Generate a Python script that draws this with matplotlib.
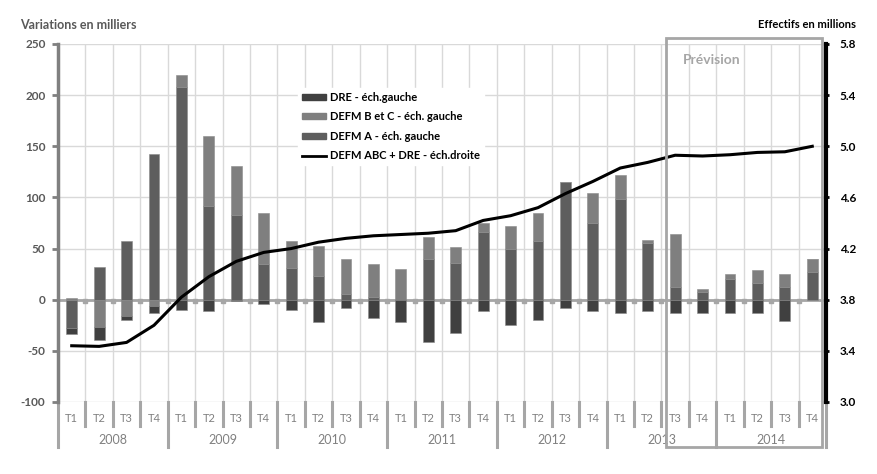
import matplotlib
matplotlib.use("Agg")
import matplotlib.pyplot as plt
import matplotlib.transforms as mtransforms
from matplotlib.patches import Rectangle, Patch
from matplotlib.lines import Line2D
import numpy as np

plt.rcParams['font.family'] = ['Lato', 'DejaVu Sans']

years = ["2008", "2009", "2010", "2011", "2012", "2013", "2014"]
quarters = ["T1", "T2", "T3", "T4"]

defm_a = [-28, 32, 57, 142, 208, 92, 83, 35,
          31, 23, 6, 3, 0, 40, 36, 66,
          50, 57, 115, 75, 98, 55, 12, 8,
          20, 16, 12, 27]
defm_bc = [2, -27, -16, -6, 12, 68, 48, 50,
           26, 30, 34, 32, 30, 21, 16, 9,
           22, 28, 0, 29, 24, 3, 52, 2,
           5, 13, 13, 13]
dre = [-6, -12, -4, -7, -10, -11, -1, -4,
       -10, -22, -8, -18, -22, -41, -33, -11,
       -25, -20, -8, -11, -13, -11, -13, -13,
       -13, -13, -21, 0]
total_abc_dre = [3.44, 3.435, 3.466, 3.60, 3.82, 3.98, 4.10, 4.17,
                 4.20, 4.25, 4.28, 4.30, 4.31, 4.32, 4.34, 4.42,
                 4.457, 4.52, 4.63, 4.725, 4.83, 4.874, 4.93, 4.924,
                 4.934, 4.952, 4.957, 5.0]

series_labels = ["DRE - éch.gauche", "DEFM B et C - éch. gauche",
                 "DEFM A - éch. gauche", "DEFM ABC + DRE - éch.droite"]
left_title = "Variations en milliers"
right_title = "Effectifs en millions"
forecast_label = "Prévision"

c_a = "#5e5e5e"
c_bc = "#7f7f7f"
c_dre = "#404040"
grid_c = "#d9d9d9"
sep_c = "#a6a6a6"

W, H = 878, 474
fig = plt.figure(figsize=(W / 100, H / 100), dpi=100)
ax = fig.add_axes([58 / W, (H - 402) / H, (826 - 58) / W, 358 / H])

n = len(defm_a)
x = np.arange(n) + 0.5
bw = 0.4

pos_bottom = np.zeros(n)
neg_bottom = np.zeros(n)
for vals, col in [(defm_a, c_a), (defm_bc, c_bc), (dre, c_dre)]:
    v = np.array(vals, dtype=float)
    bottoms = np.where(v >= 0, pos_bottom, neg_bottom)
    ax.bar(x, v, bw, bottom=bottoms, color=col, edgecolor="#8a8a8a",
           linewidth=0.4, zorder=3)
    pos_bottom = pos_bottom + np.where(v > 0, v, 0)
    neg_bottom = neg_bottom + np.where(v < 0, v, 0)

ax.set_xlim(0, n)
ax.set_ylim(-100, 250)
ax.set_yticks(np.arange(-100, 251, 50))
ax.set_yticklabels([str(v) for v in range(-100, 251, 50)],
                   fontsize=8.5, fontweight="bold", color="#595959")
ax.tick_params(axis="y", length=4, width=2, color="#808080", direction="out", pad=5)
ax.set_xticks(np.arange(0, n + 1))
ax.set_xticklabels([])
ax.tick_params(axis="x", length=0)
ax.grid(True, axis="both", color=grid_c, linewidth=1, zorder=0)
ax.set_axisbelow(True)
for s in ["top", "right", "bottom"]:
    ax.spines[s].set_visible(False)
ax.spines["left"].set_color("#808080")
ax.spines["left"].set_linewidth(2.5)

# zero line with small ticks
ax.axhline(0, color=sep_c, linewidth=2, zorder=2)
ax.plot(np.arange(1, n), np.full(n - 1, -1.5), linestyle="none", marker="s",
        markersize=2.5, color=sep_c, zorder=2)

# category axis
tr = mtransforms.blended_transform_factory(ax.transData, ax.transAxes)
for i in range(n):
    ax.text(x[i], -0.045, quarters[i % 4], transform=tr, ha="center", va="center",
            fontsize=8, color="#808080")
for b in range(n + 1):
    if b % 4 == 0:
        y1 = -0.125
    else:
        y1 = -0.068
    ax.add_line(Line2D([b, b], [0, y1], transform=tr, color=sep_c, linewidth=2.2,
                       clip_on=False))
for k, yr in enumerate(years):
    ax.text(4 * k + 2, -0.105, yr, transform=tr, ha="center", va="center",
            fontsize=9, color="#808080")

# right axis
ax2 = ax.twinx()
ax2.plot(x, total_abc_dre, color="black", linewidth=2.2, zorder=5)
ax2.set_ylim(3.0, 5.8)
rt = np.round(np.arange(3.0, 5.81, 0.4), 1)
ax2.set_yticks(rt)
ax2.set_yticklabels([f"{v:.1f}" for v in rt], fontsize=8.5, fontweight="bold",
                    color="black")
ax2.tick_params(axis="y", length=4, width=2, color="black", direction="inout", pad=8)
for s in ["top", "left", "bottom"]:
    ax2.spines[s].set_visible(False)
ax2.spines["right"].set_color("black")
ax2.spines["right"].set_linewidth(3)

# forecast box
tr2 = mtransforms.blended_transform_factory(ax2.transData, ax2.transAxes)
ax2.add_patch(Rectangle((22.16, -0.126), 27.85 - 22.16, 1.017 + 0.126,
                        transform=tr2, fill=False, edgecolor=sep_c, linewidth=2,
                        clip_on=False, zorder=6))
ax2.text(23.84, 0.955, forecast_label, transform=tr2, ha="center", va="center",
         fontsize=10, fontweight="bold", color="#a6a6a6")

# titles
fig.text(20 / W, 1 - 25 / H, left_title, ha="left", va="center", fontsize=9,
         fontweight="bold", color="#595959")
fig.text(856 / W, 1 - 25 / H, right_title, ha="right", va="center", fontsize=8,
         fontweight="bold", color="black")

handles = [Patch(facecolor=c_dre, edgecolor=c_dre),
           Patch(facecolor=c_bc, edgecolor=c_bc),
           Patch(facecolor=c_a, edgecolor=c_a),
           Line2D([0], [0], color="black", linewidth=2)]
leg = ax2.legend(handles, series_labels, loc="upper left",
                 bbox_to_anchor=(292 / W, 1 - 82 / H), bbox_transform=fig.transFigure,
                 frameon=True, fancybox=False, framealpha=1, edgecolor="white",
                 facecolor="white", prop={"size": 8, "weight": "bold"},
                 handlelength=2.2, handleheight=0.45, handletextpad=0.3,
                 labelspacing=0.75, borderpad=0.4)
leg.set_zorder(10)

fig.savefig("out.png", dpi=100, facecolor="white")
